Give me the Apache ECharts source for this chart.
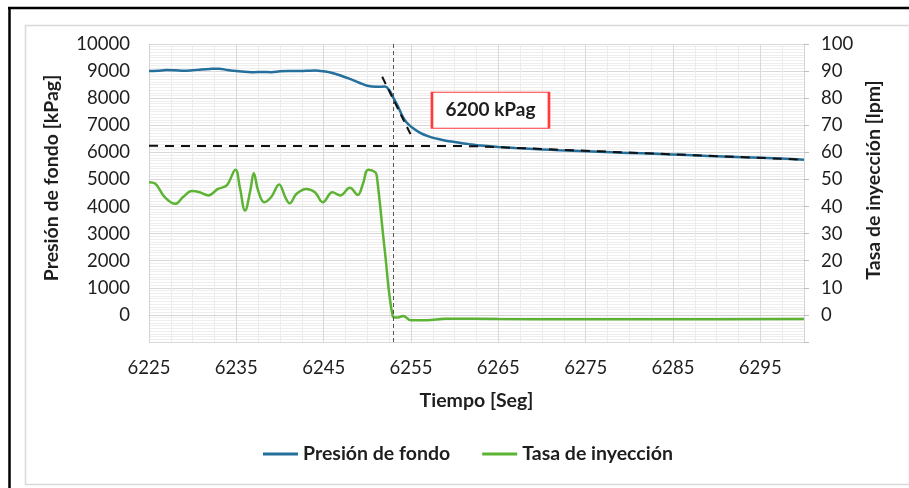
<!DOCTYPE html>
<html>
<head>
<meta charset="utf-8">
<script src="https://cdn.jsdelivr.net/npm/echarts@6/dist/echarts.min.js"></script>
<style>
  html, body { margin: 0; padding: 0; background: #fff; }
  #chart { width: 909px; height: 488px; }
</style>
</head>
<body>
<div id="chart"></div>
<script>
// tiempo [s], presion de fondo [kPag]
var presionT = [6225, 6226, 6227, 6228, 6229, 6230, 6231, 6232, 6233, 6234, 6235, 6236, 6237, 6238, 6239, 6240,
  6241, 6242, 6243, 6244, 6245, 6246, 6247, 6248, 6249, 6250, 6251, 6252, 6252.5, 6253, 6253.5, 6254, 6254.5,
  6255, 6256, 6257, 6258, 6259, 6260, 6261, 6262, 6263, 6265, 6267, 6270, 6272, 6275, 6278, 6280, 6283,
  6285, 6288, 6290, 6293, 6295, 6298, 6300];
var presion = [9000, 9010, 9040, 9030, 9010, 9030, 9060, 9080, 9090, 9040, 9000, 8980, 8960, 8970, 8960, 8990,
  9000, 9000, 9010, 9020, 8990, 8930, 8830, 8710, 8580, 8460, 8420, 8430, 8300, 8000, 7700, 7350, 7100,
  6950, 6730, 6590, 6500, 6430, 6380, 6330, 6290, 6250, 6200, 6160, 6110, 6080, 6040, 6000, 5980, 5950,
  5920, 5880, 5860, 5820, 5800, 5760, 5730];

// tiempo [s], tasa de inyeccion [lpm]
var tasaT = [6225, 6225.7, 6226.8, 6228, 6228.9, 6229.9, 6230.8, 6231.8, 6232.9, 6233.9, 6234.9, 6235.4, 6236,
  6236.6, 6237, 6237.5, 6238.2, 6239, 6239.9, 6240.6, 6241.1, 6241.9, 6243, 6244, 6244.9, 6246, 6246.9,
  6248, 6248.9, 6249.5, 6250.1, 6250.9, 6251.1, 6252, 6252.9, 6253.4, 6254.1, 6255, 6256.8, 6259, 6265,
  6275, 6285, 6300];
var tasa = [49, 48.5, 43.5, 41, 43.5, 45.7, 45.3, 44.1, 46.5, 47.8, 53.6, 47.1, 38.5,
  45.9, 52.3, 45.9, 41.6, 43.5, 48.1, 43.5, 41.2, 44.7, 46.5, 45.3, 41.6, 45.3, 44.1,
  46.9, 44.3, 48.4, 53.6, 52.7, 50.9, 23.7, -0.4, -1, -0.4, -2, -2, -1.4, -1.5,
  -1.6, -1.6, -1.5];

// lineas de referencia
var tangenteT = [6251.7, 6255.1];
var tangente = [8790, 6570];
var estabT = [6225, 6262, 6300];
var estab = [6240, 6230, 5730];
var tiempoCierre = 6253;
var etiqueta = '6200 kPag';
var etiquetaPos = [6264.1, 7555];

function pares(xs, ys) {
  return xs.map(function (x, i) { return [x, ys[i]]; });
}

var FONT = 'Lato, "Open Sans", sans-serif';
var TXT = '#1e1e1e';

var myChart = echarts.init(document.getElementById('chart'));
var option = {
  animation: false,
  backgroundColor: '#fff',
  textStyle: { fontFamily: FONT },
  grid: { left: 149, right: 105, top: 44, bottom: 146 },
  legend: {
    data: ['Presión de fondo', 'Tasa de inyección'],
    left: 258, top: 439,
    icon: 'rect',
    itemWidth: 35, itemHeight: 3, itemGap: 32,
    textStyle: { fontFamily: FONT, fontSize: 19.5, fontWeight: 'bold', color: TXT }
  },
  xAxis: {
    type: 'value', min: 6225, max: 6300, interval: 10,
    name: 'Tiempo [Seg]', nameLocation: 'middle', nameGap: 49,
    nameTextStyle: { fontFamily: FONT, fontSize: 19.5, fontWeight: 'bold', color: TXT },
    axisLine: { lineStyle: { color: '#d4d4d4', width: 1 } },
    axisTick: { show: false },
    axisLabel: { fontSize: 18.5, color: TXT, margin: 17, showMaxLabel: false,
      formatter: function (v) { return v > 6295 ? '' : v; } },
    splitLine: { show: true, lineStyle: { color: '#d9d9d9', width: 1 } },
    minorTick: { show: false, splitNumber: 4 },
    minorSplitLine: { show: true, lineStyle: { color: '#ececec', width: 1 } }
  },
  yAxis: [{
    type: 'value', min: -1000, max: 10000, interval: 1000,
    name: 'Presión de fondo [kPag]', nameLocation: 'middle', nameGap: 87,
    nameTextStyle: { fontFamily: FONT, fontSize: 19.5, fontWeight: 'bold', color: TXT, padding: [0, 0, 0, 30] },
    axisLine: { show: true, lineStyle: { color: '#d4d4d4' } },
    axisTick: { show: false },
    axisLabel: { fontSize: 18.5, color: TXT, margin: 19,
      formatter: function (v) { return v < 0 ? '' : v; } },
    splitLine: { show: true, lineStyle: { color: '#d9d9d9', width: 1 } },
    minorTick: { show: false, splitNumber: 10 },
    minorSplitLine: { show: true, lineStyle: { color: '#eeeeee', width: 1 } }
  }, {
    type: 'value', min: -10, max: 100, interval: 10,
    name: 'Tasa de inyección [lpm]', nameLocation: 'middle', nameGap: 56,
    nameTextStyle: { fontFamily: FONT, fontSize: 19.5, fontWeight: 'bold', color: TXT, padding: [0, 0, 0, 26] },
    axisLine: { show: true, lineStyle: { color: '#d4d4d4' } },
    axisTick: { show: true, length: 5, lineStyle: { color: '#bfbfbf' } },
    axisLabel: { fontSize: 18.5, color: TXT, margin: 17,
      formatter: function (v) { return v < 0 ? '' : v; } },
    splitLine: { show: false }
  }],
  series: [{
    name: 'Presión de fondo', type: 'line', yAxisIndex: 0,
    data: pares(presionT, presion),
    showSymbol: false, symbol: 'none', smooth: 0.4,
    lineStyle: { color: '#246f9b', width: 2.5 },
    itemStyle: { color: '#246f9b' },
    markLine: {
      silent: true, symbol: 'none', label: { show: false },
      lineStyle: { color: '#555', width: 1, type: [4, 3] },
      data: [{ xAxis: tiempoCierre }]
    },
    markPoint: {
      silent: true,
      symbol: 'rect', symbolSize: [117, 36],
      itemStyle: { color: '#fff', borderColor: '#ff3b3b', borderWidth: 1.5, borderType: 'solid' },
      label: { show: true, position: 'inside', formatter: etiqueta,
        fontFamily: FONT, fontSize: 19, fontWeight: 'bold', color: TXT },
      data: [{ coord: etiquetaPos }]
    },
    z: 3
  }, {
    name: 'Tasa de inyección', type: 'line', yAxisIndex: 1,
    data: pares(tasaT, tasa),
    showSymbol: false, symbol: 'none', smooth: 0.4,
    lineStyle: { color: '#5db334', width: 2.5 },
    itemStyle: { color: '#5db334' },
    z: 3
  }, {
    name: 'tangente', type: 'line', yAxisIndex: 0,
    data: pares(tangenteT, tangente),
    showSymbol: false, symbol: 'none',
    lineStyle: { color: '#111', width: 2, type: [8, 6] },
    z: 4
  }, {
    name: 'estabilizacion', type: 'line', yAxisIndex: 0,
    data: pares(estabT, estab),
    showSymbol: false, symbol: 'none',
    lineStyle: { color: '#111', width: 2, type: [9, 7] },
    z: 4
  }],
  graphic: [
    { type: 'rect', left: 23, top: 23, z: -10, silent: true,
      shape: { width: 884, height: 459 },
      style: { fill: 'none', stroke: '#d9d9d9', lineWidth: 1.5 } },
    { type: 'line', silent: true, shape: { x1: 8, y1: 8, x2: 909, y2: 8 },
      style: { stroke: '#000', lineWidth: 2.5 } },
    { type: 'line', silent: true, shape: { x1: 9.5, y1: 7, x2: 9.5, y2: 488 },
      style: { stroke: '#000', lineWidth: 2.5 } }
  ]
};
myChart.setOption(option);
</script>
</body>
</html>
